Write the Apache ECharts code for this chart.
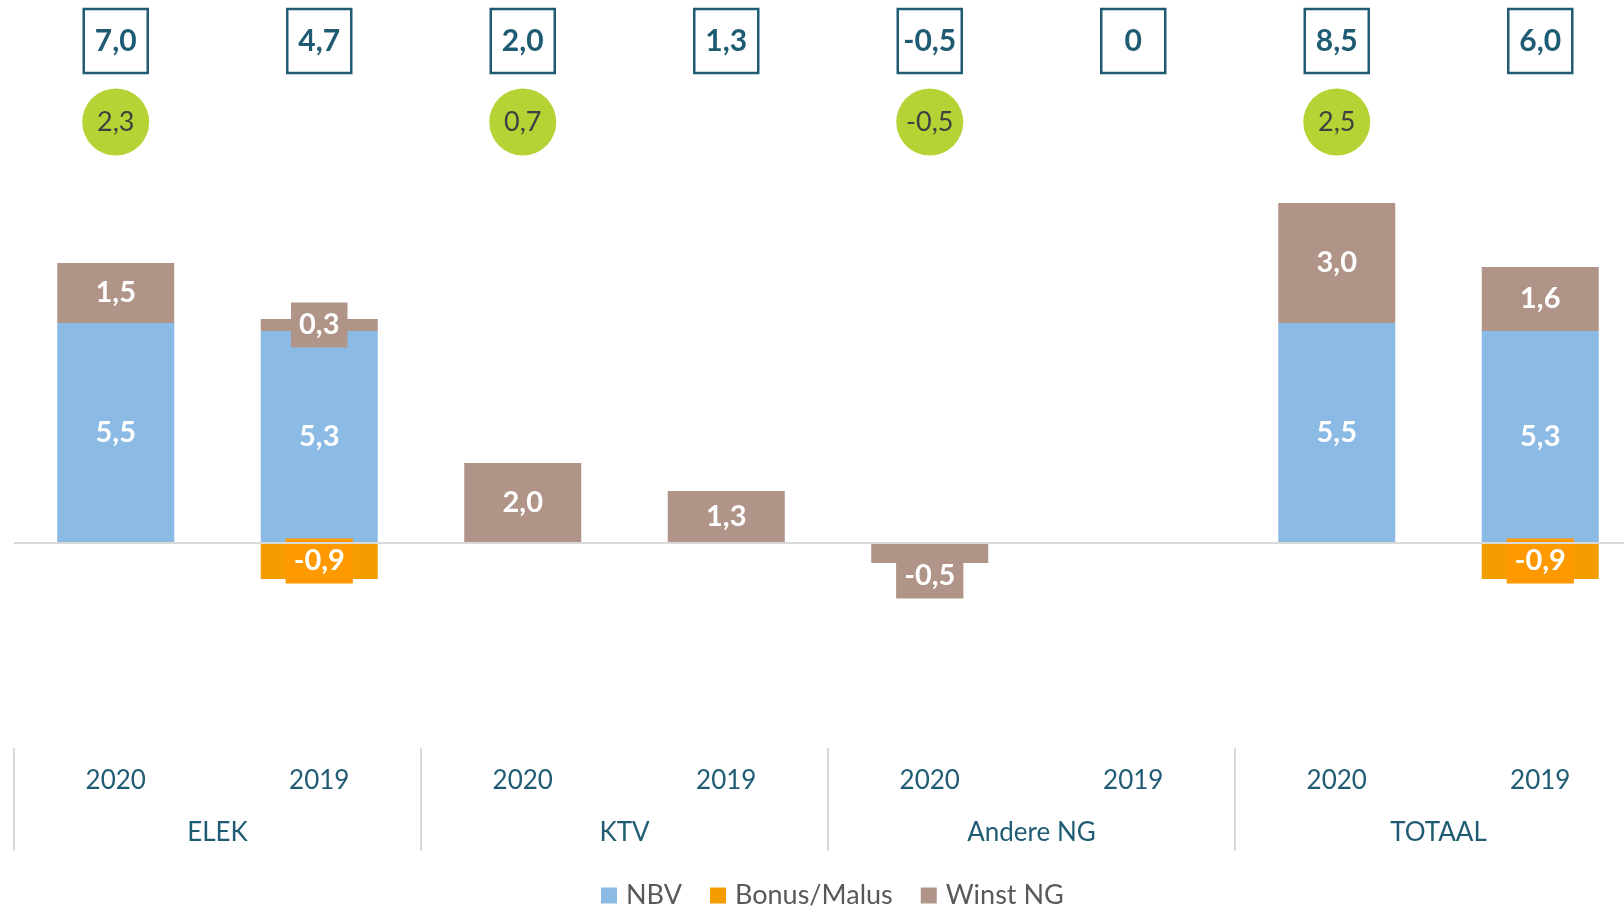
<!DOCTYPE html>
<html>
<head>
<meta charset="utf-8">
<script src="https://cdn.jsdelivr.net/npm/echarts@6/dist/echarts.min.js"></script>
<style>
  html, body { margin: 0; padding: 0; background: #fff; }
  #chart { width: 1624px; height: 911px; }
</style>
</head>
<body>
<div id="chart"></div>
<script>
const jaren = ['2020', '2019', '2020', '2019', '2020', '2019', '2020', '2019']
const groepen = ['ELEK', 'KTV', 'Andere NG', 'TOTAAL']
const nbv = [5.5, 5.3, 0, 0, 0, 0, 5.5, 5.3]
const bonusMalus = [0, -0.9, 0, 0, 0, 0, 0, -0.9]
const winstNG = [1.5, 0.3, 2.0, 1.3, -0.5, 0, 3.0, 1.6]
const totaal = [7.0, 4.7, 2.0, 1.3, -0.5, 0, 8.5, 6.0]
const verschil = [2.3, 0.7, -0.5, 2.5] // 2020 t.o.v. 2019, per groep

const colorList = {
  nbv: '#8BBAE4',
  bonus: '#F49D00',
  bonusLabel: '#FF9900',
  winst: '#B09488',
  teal: '#1F5C74',
  groen: '#B5D334',
  tekst: '#404040',
  legenda: '#595959',
  lijn: '#D9D9D9'
}
const font = 'Lato, "Open Sans", sans-serif'

const fmt = v => (v === 0 ? '0' : v.toFixed(1).replace('.', ','))
const segment = arr => arr.map(v => (v === 0 ? null : v))

const barLabel = bg => ({
  show: true,
  position: 'inside',
  formatter: p => fmt(p.value),
  color: '#fff',
  fontFamily: font,
  fontWeight: 'bold',
  fontSize: 29,
  backgroundColor: bg,
  padding: [8, 8]
})

// negatieve winst: label onder de balk, zoals in het origineel
const winstData = winstNG.map(v => {
  if (v === 0) return null
  if (v < 0) return { value: v, label: { offset: [0, 23] } }
  return v
})

const chart = echarts.init(document.getElementById('chart'))

const option = {
  animation: false,
  textStyle: { fontFamily: font },
  legend: {
    data: ['NBV', 'Bonus/Malus', 'Winst NG'],
    left: 601,
    top: 882,
    padding: 0,
    icon: 'rect',
    itemWidth: 16,
    itemHeight: 16,
    itemGap: 28,
    textStyle: { fontSize: 27, color: colorList.legenda, fontFamily: font, padding: [0, 0, 0, 4] }
  },
  grid: [
    { left: 14, width: 1628, top: 143, height: 560, outerBoundsMode: 'none', containLabel: false },
    { left: 14, width: 1628, top: 41, height: 81, outerBoundsMode: 'none', containLabel: false }
  ],
  xAxis: [
    {
      type: 'category',
      gridIndex: 0,
      data: jaren,
      position: 'bottom',
      axisLine: { show: false, onZero: false },
      axisTick: { show: false },
      axisLabel: { margin: 65, fontSize: 26, color: colorList.teal, fontFamily: font, interval: 0 }
    },
    {
      type: 'category',
      gridIndex: 0,
      data: groepen,
      position: 'bottom',
      offset: 45,
      axisLine: { show: false, onZero: false },
      axisTick: { show: true, length: 103, interval: 0, lineStyle: { color: colorList.lijn, width: 2 } },
      axisLabel: { margin: 72, fontSize: 26, color: colorList.teal, fontFamily: font, interval: 0 }
    },
    {
      type: 'category',
      gridIndex: 1,
      data: jaren,
      show: false
    }
  ],
  yAxis: [
    { type: 'value', gridIndex: 0, min: -4, max: 10, show: false, splitLine: { show: false } },
    { type: 'category', gridIndex: 1, data: ['verschil', 'totaal'], boundaryGap: false, show: false }
  ],
  series: [
    {
      name: 'NBV',
      type: 'bar',
      stack: 'totaal',
      barWidth: '57.5%',
      data: segment(nbv),
      itemStyle: { color: colorList.nbv },
      label: barLabel(colorList.nbv),
      markLine: {
        silent: true,
        symbol: 'none',
        label: { show: false },
        lineStyle: { color: colorList.lijn, width: 2, type: 'solid' },
        data: [{ yAxis: 0 }]
      }
    },
    {
      name: 'Bonus/Malus',
      type: 'bar',
      stack: 'totaal',
      data: segment(bonusMalus),
      itemStyle: { color: colorList.bonus },
      label: barLabel(colorList.bonusLabel)
    },
    {
      name: 'Winst NG',
      type: 'bar',
      stack: 'totaal',
      data: winstData,
      itemStyle: { color: colorList.winst },
      label: barLabel(colorList.winst)
    },
    {
      name: 'Totaal',
      type: 'scatter',
      xAxisIndex: 2,
      yAxisIndex: 1,
      symbol: 'rect',
      symbolSize: [64, 64],
      silent: true,
      data: totaal.map((v, i) => [i, 'totaal', v]),
      itemStyle: { color: '#fff', borderColor: colorList.teal, borderWidth: 2.5, opacity: 1 },
      label: {
        show: true,
        position: 'inside',
        formatter: p => fmt(p.value[2]),
        color: colorList.teal,
        fontWeight: 'bold',
        fontSize: 30,
        fontFamily: font
      }
    },
    {
      name: 'Verschil',
      type: 'scatter',
      xAxisIndex: 2,
      yAxisIndex: 1,
      symbol: 'circle',
      symbolSize: 67,
      silent: true,
      data: verschil.map((v, g) => [g * 2, 'verschil', v]),
      itemStyle: { color: colorList.groen, opacity: 1 },
      label: {
        show: true,
        position: 'inside',
        formatter: p => fmt(p.value[2]),
        color: colorList.tekst,
        fontSize: 27,
        fontFamily: font
      }
    }
  ]
}

chart.setOption(option)
</script>
</body>
</html>
